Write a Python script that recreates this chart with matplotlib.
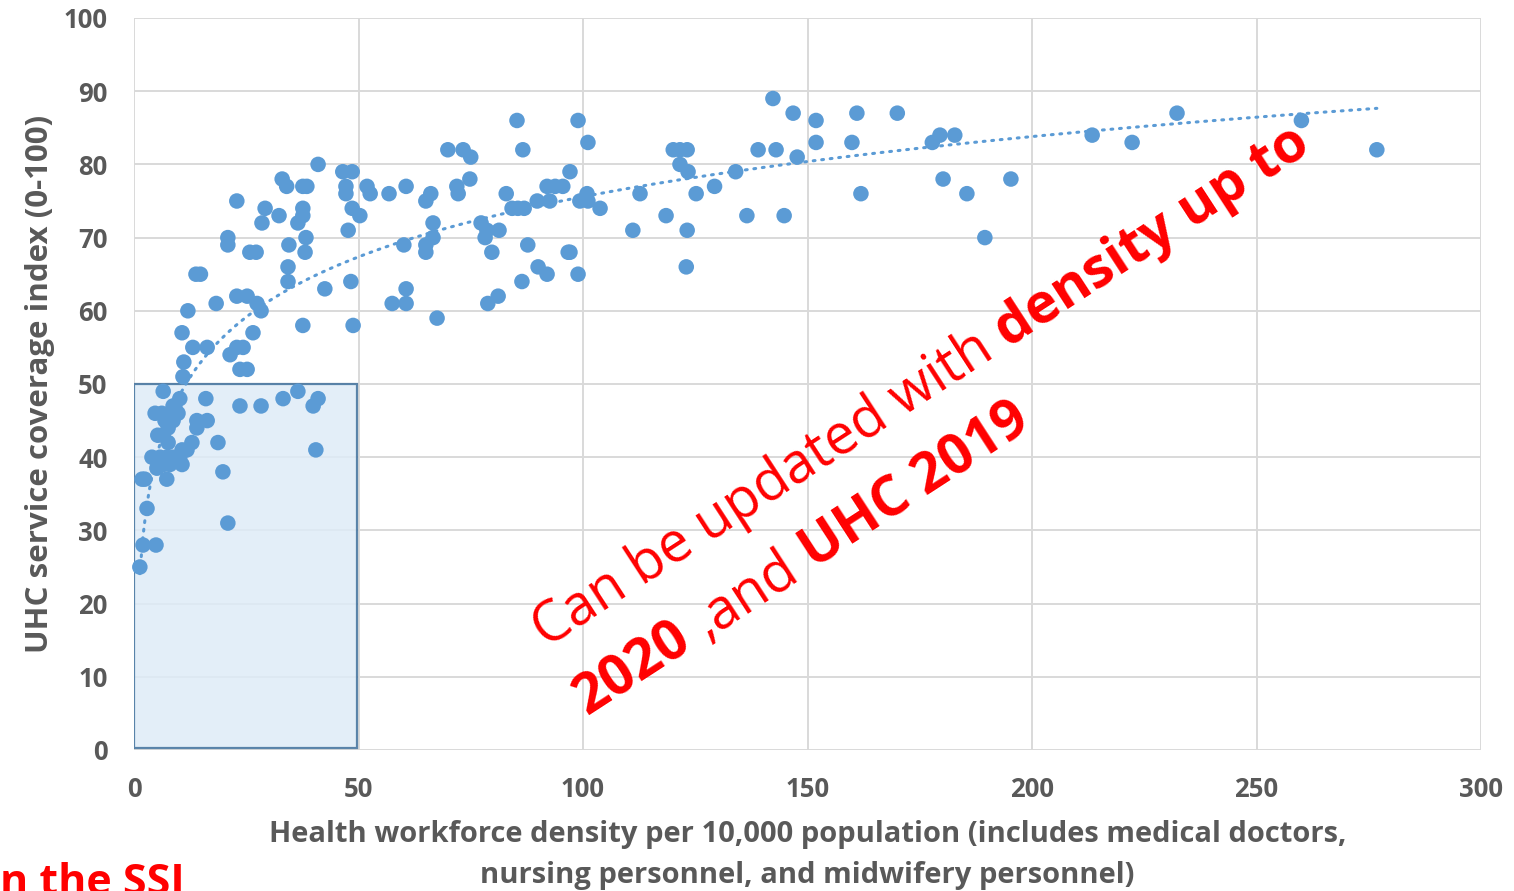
import numpy as np
import matplotlib.pyplot as plt
from matplotlib.patches import Rectangle
from matplotlib.transforms import IdentityTransform

plt.rcParams['font.family'] = ['Open Sans', 'DejaVu Sans']

# health workforce density per 10,000 population
density = [276.8, 260, 232.3, 222.3, 213.4, 195.3, 189.5, 185.5, 182.8, 179.5,
           177.8, 180.2, 170, 161, 161.9, 159.9, 151.9, 151.9, 147.7, 146.8,
           142.3, 143, 144.8, 139, 136.5, 134, 129.3, 125.2, 123.4, 123.2,
           121.6, 120.1, 121.6, 123.2, 123, 118.5, 112.7, 111.1,
           85.3, 98.9, 86.6, 101.1, 69.9, 73.3, 75, 46.5, 48.6, 41,
           47.2, 47.2, 51.9, 52.6, 56.8, 60.6, 65, 66.1, 71.9, 72.2, 74.8, 82.9,
           48.6, 50.3, 47.7, 66.6, 60.1, 65, 65, 66.6, 77.3, 78.6, 81.3, 78.2,
           79.7, 84.2, 85.5, 86.9, 89.8, 92, 93.8, 95.5, 92.6, 97.1, 99.3, 100.9,
           101.1, 103.8, 87.7, 90, 92, 86.4, 96.7, 97.1, 98.9, 48.3, 60.6, 57.5,
           60.6, 67.5, 78.8, 81.1, 48.8,
           33, 34, 37.6, 38.5, 22.9, 29.2, 32.3, 28.5, 37.6, 37.6, 36.5, 20.9,
           20.9, 34.5, 38.3, 38.1, 25.8, 27.2, 34.3, 34.3, 13.8, 14.8, 42.5, 12,
           18.3, 22.9, 25.2, 27.4, 28.3, 37.6, 10.7, 26.5, 13.1, 16.3, 21.4, 22.9,
           24.3, 23.6, 25.2, 11.1, 10.9, 6.5,
           10.2, 8.7, 16, 4.7, 6.2, 8, 9.8, 9.1, 14, 16.3, 14, 6.9, 8.7, 7.6, 5.3,
           6.5, 7.6, 12.9, 18.7, 11.8, 10.7, 4, 5.8, 7.3, 8.7, 10.2, 6.5, 8, 10.7,
           5.1, 7.3, 2.4, 1.8, 19.8, 2.9, 20.9, 2, 4.9, 1.3, 23.6, 28.3, 33.2,
           36.5, 39.9, 41, 40.5]

# UHC service coverage index
uhc = [82, 86, 87, 83, 84, 78, 70, 76, 84, 84,
       83, 78, 87, 87, 76, 83, 86, 83, 81, 87,
       89, 82, 73, 82, 73, 79, 77, 76, 79, 82,
       82, 82, 80, 71, 66, 73, 76, 71,
       86, 86, 82, 83, 82, 82, 81, 79, 79, 80,
       77, 76, 77, 76, 76, 77, 75, 76, 77, 76, 78, 76,
       74, 73, 71, 72, 69, 69, 68, 70, 72, 71, 71, 70,
       68, 74, 74, 74, 75, 77, 77, 77, 75, 79, 75, 76,
       75, 74, 69, 66, 65, 64, 68, 68, 65, 64, 63, 61,
       61, 59, 61, 62, 58,
       78, 77, 77, 77, 75, 74, 73, 72, 74, 73, 72, 70,
       69, 69, 70, 68, 68, 68, 66, 64, 65, 65, 63, 60,
       61, 62, 62, 61, 60, 58, 57, 57, 55, 55, 54, 55,
       55, 52, 52, 53, 51, 49,
       48, 47, 48, 46, 46, 46, 46, 47, 45, 45, 44, 45, 45, 44, 43,
       43, 42, 42, 42, 41, 41, 40, 40, 40, 40, 40, 39, 39, 39,
       38.5, 37, 37, 37, 38, 33, 31, 28, 28, 25, 47, 47, 48,
       49, 47, 48, 41]

x_ticks = [0, 50, 100, 150, 200, 250, 300]
y_ticks = [0, 10, 20, 30, 40, 50, 60, 70, 80, 90, 100]

blue = '#5B9BD5'
grey = '#595959'
red = '#FF0000'

fig = plt.figure(figsize=(15.14, 8.91), dpi=100)
ax = fig.add_axes([134 / 1514, 141 / 891, 1347 / 1514, 732 / 891])

ax.set_xlim(0, 300)
ax.set_ylim(0, 100)
ax.set_xticks(x_ticks)
ax.set_yticks(y_ticks)
ax.grid(True, color='#D9D9D9', linewidth=1.4, zorder=0)
ax.set_axisbelow(True)
for s in ax.spines.values():
    s.set_visible(False)
ax.tick_params(length=0, labelsize=18.5, labelcolor=grey, pad=19)
for lab in ax.get_xticklabels() + ax.get_yticklabels():
    lab.set_fontweight('bold')

# highlighted low-density region
ax.add_patch(Rectangle((0, 0.3), 49.7, 49.7, facecolor='#DEEBF7', alpha=0.85,
                       edgecolor='#41719C', linewidth=1.6, zorder=1))

ax.scatter(density, uhc, s=125, color=blue, edgecolors='none', zorder=3, clip_on=False)

# logarithmic trend line
xd = np.array(density)
a, b = np.polyfit(np.log(xd), np.array(uhc), 1)
xs = np.linspace(xd.min(), xd.max(), 400)
ax.plot(xs, a * np.log(xs) + b, color=blue, linewidth=2.2, linestyle=(0, (0.6, 2.2)),
        dash_capstyle='round', zorder=2)

ax.set_ylabel('UHC service coverage index (0-100)', fontsize=22.5, fontweight='bold',
              color=grey, labelpad=6)
ax.set_xlabel('Health workforce density per 10,000 population (includes medical doctors,\n'
              'nursing personnel, and midwifery personnel)', fontsize=21, fontweight='bold',
              color=grey, labelpad=12, linespacing=1.55)

# rotated red note, mixed weights placed piece by piece along the baseline
fig.canvas.draw()
renderer = fig.canvas.get_renderer()
angle = 33
ca, sa = np.cos(np.deg2rad(angle)), np.sin(np.deg2rad(angle))
note_size = 40


def width(txt, weight):
    t = fig.text(0, 0, txt, fontsize=note_size, fontweight=weight)
    w = t.get_window_extent(renderer).width
    t.remove()
    return w


space = width('a a', 'normal') - width('aa', 'normal')


def note_line(x0, y0, pieces):
    off = 0
    for txt, weight in pieces:
        fig.text(x0 + off * ca, y0 + off * sa, txt, fontsize=note_size, fontweight=weight,
                 color=red, rotation=angle, rotation_mode='anchor', ha='left',
                 va='baseline', transform=IdentityTransform(), zorder=5)
        off += width(txt, weight) + space


note_line(546, 891 - 648, [('Can be updated with', 'normal'), ('density up to', 'bold')])
note_line(588, 891 - 716, [('2020', 'bold'), (',and', 'normal'), ('UHC 2019', 'bold')])

fig.text(0, -4, 'n the SSI', fontsize=31, fontweight='bold', color=red,
         ha='left', va='baseline', transform=IdentityTransform())

fig.savefig('out.png', dpi=100)
